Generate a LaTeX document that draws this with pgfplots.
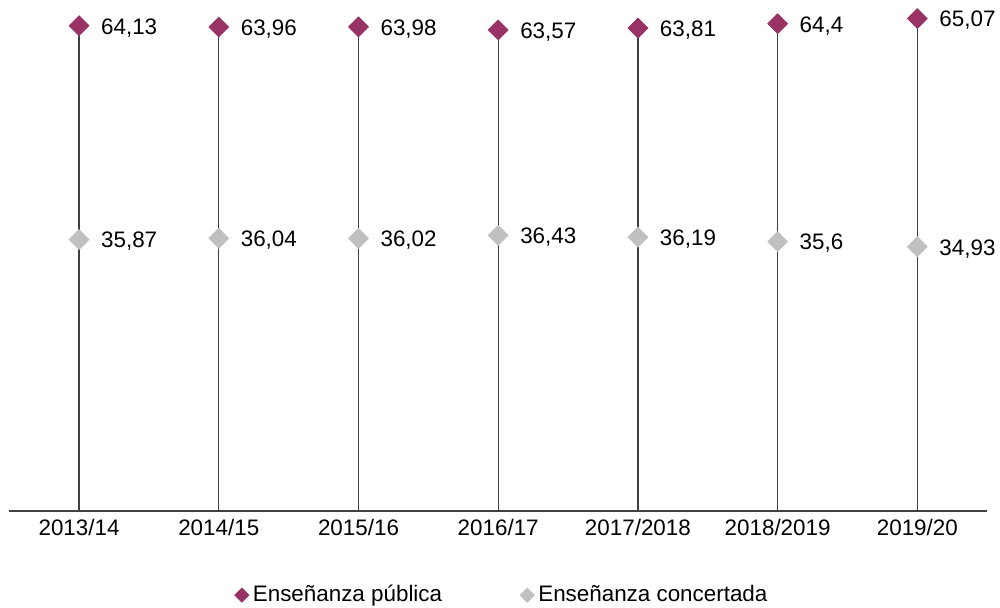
\documentclass[border=0pt]{standalone}
\usepackage{pgfplots}
\pgfplotsset{compat=1.18}
\usepackage{pgfplotstable}
\usepackage{fontspec}
\setmainfont{Liberation Sans}
\definecolor{pub}{HTML}{993366}
\definecolor{conc}{HTML}{C0C0C0}
\definecolor{ln}{HTML}{404040}
\pgfplotstableread{
x y lab
0 64.13 64,13
1 63.96 63,96
2 63.98 63,98
3 63.57 63,57
4 63.81 63,81
5 64.4 64,4
6 65.07 65,07
}\pubdata
\pgfplotstableread{
x y lab
0 35.87 35,87
1 36.04 36,04
2 36.02 36,02
3 36.43 36,43
4 36.19 36,19
5 35.6 35,6
6 34.93 34,93
}\concdata
\begin{document}
\begin{tikzpicture}[font=\fontsize{11.2}{13}\selectfont]
\useasboundingbox (0,0) rectangle (500pt,304pt);
\begin{axis}[at={(4.6pt,48.5pt)}, anchor=south west, scale only axis,
  width=489pt, height=253.5pt,
  xmin=-0.5, xmax=6.5, ymin=0, ymax=67,
  axis x line*=bottom, axis y line=none,
  x axis line style={-, draw=ln, line width=0.6pt},
  xtick={0,...,6},
  xticklabels={2013/14,2014/15,2015/16,2016/17,2017/2018,2018/2019,2019/20},
  major tick length=0pt,
  xticklabel style={text=black, yshift=-0.5pt},
  clip=false,
  legend columns=2,
  legend style={at={(0.505,-0.166)}, anchor=center, draw=none, fill=none,
    font=\fontsize{11.2}{13}\selectfont,
    /tikz/every even column/.append style={column sep=37pt},
    inner sep=0pt},
  legend image code/.code={\draw[mark size=2.5pt] plot coordinates {(0.1cm,0cm)};},
]
\addplot[ycomb, draw=ln, line width=0.6pt, no marks, forget plot] table[x=x,y=y]{\pubdata};
\addplot[only marks, mark=square*, mark size=3.5pt,
  mark options={rotate=45, fill=pub, draw=pub},
  nodes near coords, point meta=explicit symbolic,
  nodes near coords style={anchor=west, xshift=7.5pt, yshift=-1pt, text=black}]
  table[x=x,y=y,meta=lab]{\pubdata};
\addlegendentry{Enseñanza pública}
\addplot[only marks, mark=square*, mark size=3.5pt,
  mark options={rotate=45, fill=conc, draw=conc},
  nodes near coords, point meta=explicit symbolic,
  nodes near coords style={anchor=west, xshift=7.5pt, yshift=-1pt, text=black}]
  table[x=x,y=y,meta=lab]{\concdata};
\addlegendentry{Enseñanza concertada}
\end{axis}
\end{tikzpicture}
\end{document}
